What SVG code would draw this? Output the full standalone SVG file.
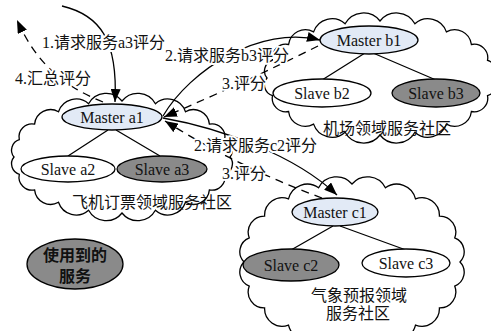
<svg xmlns="http://www.w3.org/2000/svg" width="491" height="331" viewBox="0 0 491 331">
<defs>
<marker id="ah" viewBox="0 0 13 10" refX="13" refY="5" markerWidth="13" markerHeight="10" orient="auto" markerUnits="userSpaceOnUse"><path d="M0 0 L13 5 L0 10 Z" fill="#000"/></marker>
<style>
.cloud{fill:#fff;stroke:#000;stroke-width:1.3}
.t{font-family:"Liberation Serif","Noto Sans CJK SC",serif;font-size:16px;fill:#111}
.lbl{stroke:#fff;stroke-width:4;stroke-linejoin:round;paint-order:stroke}
.m{fill:#e2eaf6;stroke:#000;stroke-width:1.3}
.w{fill:#fff;stroke:#000;stroke-width:1.3}
.g{fill:#8a8a8a;stroke:#000;stroke-width:1.3}
.tree{stroke:#000;stroke-width:1.3;fill:none}
.sol{fill:none;stroke:#000;stroke-width:1.3;marker-end:url(#ah)}
.dsh{fill:none;stroke:#000;stroke-width:1.3;stroke-dasharray:8 6;marker-end:url(#ah)}
</style>
</defs>
<rect width="491" height="331" fill="#fff"/>

<g id="cloud-a">
<path class="cloud" d="M230 157 A10.9 10.9 0 0 1 224.7 174.3 A13.1 13.1 0 0 1 209.4 189.9 A16.1 16.1 0 0 1 185.5 202.3 A18.7 18.7 0 0 1 155.4 210.3 A20.1 20.1 0 0 1 122 213 A20.1 20.1 0 0 1 88.6 210.3 A18.7 18.7 0 0 1 58.5 202.3 A16.1 16.1 0 0 1 34.6 189.9 A13.1 13.1 0 0 1 19.3 174.3 A10.9 10.9 0 0 1 14 157 A10.9 10.9 0 0 1 19.3 139.7 A13.1 13.1 0 0 1 34.6 124.1 A16.1 16.1 0 0 1 58.5 111.7 A18.7 18.7 0 0 1 88.6 103.7 A20.1 20.1 0 0 1 122 101 A20.1 20.1 0 0 1 155.4 103.7 A18.7 18.7 0 0 1 185.5 111.7 A16.1 16.1 0 0 1 209.4 124.1 A13.1 13.1 0 0 1 224.7 139.7 A10.9 10.9 0 0 1 230 157 Z"/>
</g>
<g id="cloud-b">
<path class="cloud" d="M493 78 A11 11 0 0 1 487.5 95.6 A13.6 13.6 0 0 1 471.4 111.5 A16.8 16.8 0 0 1 446.4 124.1 A19.5 19.5 0 0 1 414.9 132.2 A21 21 0 0 1 380 135 A21 21 0 0 1 345.1 132.2 A19.5 19.5 0 0 1 313.6 124.1 A16.8 16.8 0 0 1 288.6 111.5 A13.6 13.6 0 0 1 272.5 95.6 A11 11 0 0 1 267 78 A11 11 0 0 1 272.5 60.4 A13.6 13.6 0 0 1 288.6 44.5 A16.8 16.8 0 0 1 313.6 31.9 A19.5 19.5 0 0 1 345.1 23.8 A21 21 0 0 1 380 21 A21 21 0 0 1 414.9 23.8 A19.5 19.5 0 0 1 446.4 31.9 A16.8 16.8 0 0 1 471.4 44.5 A13.6 13.6 0 0 1 487.5 60.4 A11 11 0 0 1 493 78 Z"/>
</g>
<g id="cloud-c">
<path class="cloud" d="M460 262 A14.8 14.8 0 0 1 454.7 286.1 A16 16 0 0 1 439.4 307.9 A17.6 17.6 0 0 1 415.5 325.1 A19.3 19.3 0 0 1 385.4 336.2 A20.2 20.2 0 0 1 352 340 A20.2 20.2 0 0 1 318.6 336.2 A19.3 19.3 0 0 1 288.5 325.1 A17.6 17.6 0 0 1 264.6 307.9 A16 16 0 0 1 249.3 286.1 A14.8 14.8 0 0 1 244 262 A14.8 14.8 0 0 1 249.3 237.9 A16 16 0 0 1 264.6 216.1 A17.6 17.6 0 0 1 288.5 198.9 A19.3 19.3 0 0 1 318.6 187.8 A20.2 20.2 0 0 1 352 184 A20.2 20.2 0 0 1 385.4 187.8 A19.3 19.3 0 0 1 415.5 198.9 A17.6 17.6 0 0 1 439.4 216.1 A16 16 0 0 1 454.7 237.9 A14.8 14.8 0 0 1 460 262 Z"/>
</g>

<g id="connectors">
<path class="tree" d="M108 130 L68 156 M116 130 L160 156"/>
<path class="tree" d="M365 53 L322 80 M373 53 L436 80"/>
<path class="tree" d="M333 226 L291 250 M340 226 L406 250"/>
<path class="sol" d="M62 6 C100 15 118 40 115 102"/>
<path class="dsh" d="M103 102 C60 85 35 60 17 20"/>
<path class="sol" d="M163 116 C190 70 260 25 320 40"/>
<path class="dsh" d="M318 46 Q250 80 164 117"/>
<path class="sol" d="M163 118 C220 128 295 155 337 195"/>
<path class="dsh" d="M322 198 Q240 168 165 121"/>
</g>

<g id="master-a1"><ellipse class="m" cx="112" cy="117" rx="50" ry="13"/><text class="t" x="112" y="123" text-anchor="middle">Master a1</text></g>
<g id="slave-a2"><ellipse class="w" cx="68" cy="169" rx="47" ry="13"/><text class="t" x="68" y="175" text-anchor="middle">Slave a2</text></g>
<g id="slave-a3"><ellipse class="g" cx="162" cy="169" rx="45" ry="13"/><text class="t" x="162" y="175" text-anchor="middle">Slave a3</text></g>
<g id="master-b1"><ellipse class="m" cx="369" cy="40" rx="49" ry="14"/><text class="t" x="369" y="46" text-anchor="middle">Master b1</text></g>
<g id="slave-b2"><ellipse class="w" cx="322" cy="93" rx="49" ry="14"/><text class="t" x="322" y="99" text-anchor="middle">Slave b2</text></g>
<g id="slave-b3"><ellipse class="g" cx="436" cy="93" rx="44" ry="14"/><text class="t" x="436" y="99" text-anchor="middle">Slave b3</text></g>
<g id="master-c1"><ellipse class="m" cx="335" cy="212" rx="43" ry="14"/><text class="t" x="335" y="218" text-anchor="middle">Master c1</text></g>
<g id="slave-c2"><ellipse class="g" cx="291" cy="265" rx="48" ry="16"/><text class="t" x="291" y="271" text-anchor="middle">Slave c2</text></g>
<g id="slave-c3"><ellipse class="w" cx="406" cy="263" rx="44" ry="14"/><text class="t" x="406" y="269" text-anchor="middle">Slave c3</text></g>
<g id="legend"><ellipse class="g" cx="75" cy="264" rx="48" ry="25"/><text class="t" x="75" y="261" text-anchor="middle" font-weight="bold">使用到的</text><text class="t" x="75" y="282" text-anchor="middle" font-weight="bold">服务</text></g>

<g id="labels">
<text class="t lbl" x="42" y="48">1.请求服务a3评分</text>
<text class="t lbl" x="15" y="84">4.汇总评分</text>
<text class="t lbl" x="165" y="61">2.请求服务b3评分</text>
<text class="t lbl" x="222" y="89">3.评分</text>
<text class="t lbl" x="194" y="151">2.请求服务c2评分</text>
<text class="t lbl" x="222" y="179">3.评分</text>
<text class="t" x="152" y="208" text-anchor="middle">飞机订票领域服务社区</text>
<text class="t" x="387" y="134" text-anchor="middle">机场领域服务社区</text>
<text class="t" x="359" y="301" text-anchor="middle">气象预报领域</text>
<text class="t" x="358" y="319" text-anchor="middle">服务社区</text>
</g>
</svg>
